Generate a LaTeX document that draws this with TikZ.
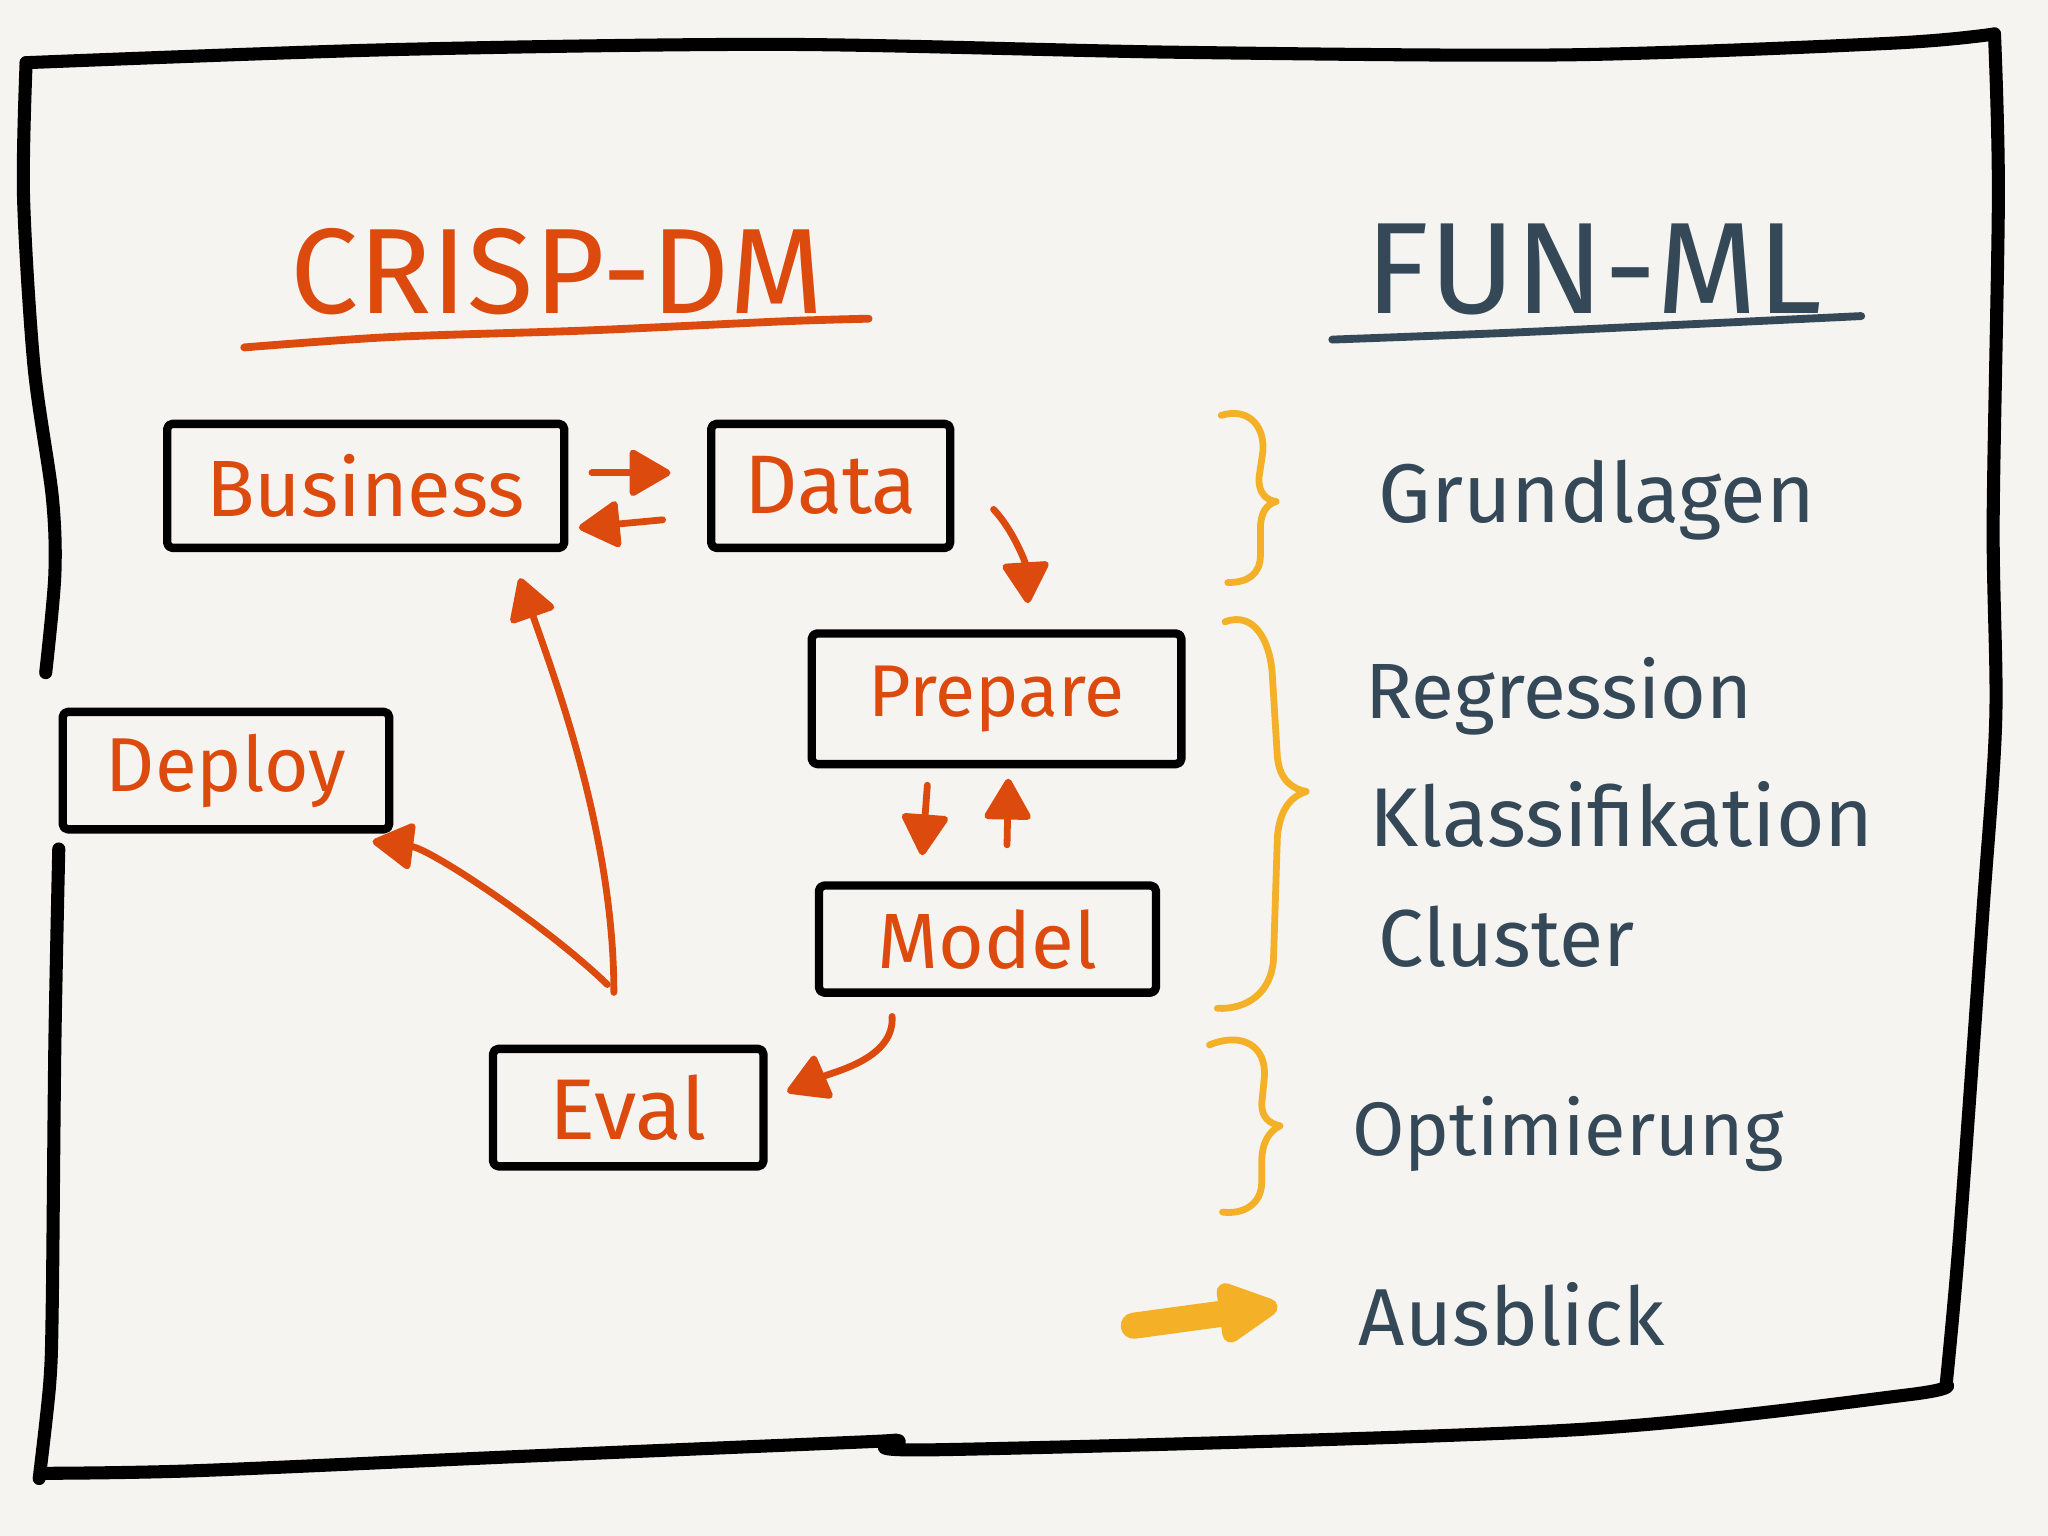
\documentclass[tikz,border=0pt]{standalone}
\usepackage{fontspec}
\setmainfont{Fira Sans}
\usepackage{graphicx}
\usetikzlibrary{arrows.meta}
\definecolor{bg}{HTML}{F5F4F0}
\definecolor{org}{HTML}{DC4A0E}
\definecolor{ink}{HTML}{344857}
\definecolor{yel}{HTML}{F4B026}
\newcommand\fitw[2]{\resizebox{#1}{!}{#2}}
\begin{document}
\begin{tikzpicture}[x=0.5pt,y=-0.5pt, line cap=round, line join=round,
 box/.style={draw=black, line width=3.2pt, rounded corners=2pt, inner sep=0pt, text=org},
 arr/.style={draw=org, line width=2.6pt, -{Triangle[length=17pt,width=19pt,round]}},
 brace/.style={draw=yel, line width=2.6pt},
 frame/.style={draw=black, line width=5pt},
 lbl/.style={text=ink, inner sep=0pt, anchor=base west}]
\fill[bg] (0,0) rectangle (1568,1176);
\useasboundingbox (0,0) rectangle (1568,1176);
% frame
\draw[frame] plot[smooth, tension=0.5] coordinates {(35,515) (42,440) (40,380) (26,280) (18,150) (20,48)};
\draw[frame] plot[smooth, tension=0.5] coordinates {(20,48) (300,38) (600,34) (900,40) (1200,42) (1450,33) (1527,26)};
\draw[frame] plot[smooth, tension=0.5] coordinates {(1527,26) (1530,150) (1526,400) (1528,550) (1518,700) (1500,950) (1490,1060)};
\draw[frame] plot[smooth, tension=0.5] coordinates {(1490,1060) (1460,1068) (1200,1095) (715,1110) (688,1103) (660,1104) (400,1115) (150,1126) (35,1128)};
\draw[frame] plot[smooth, tension=0.5] coordinates {(30,1132) (38,1060) (40,1000) (42,800) (45,650)};
% titles
\node[lbl, text=org] (t1) at (222,240) {\fitw{204pt}{CRISP-DM}};
\node[lbl] (t2) at (1045,240) {\fitw{175pt}{FUN-ML}};
\draw[org, line width=3pt] plot[smooth] coordinates {(187,266) (300,258) (450,253) (600,246) (665,244)};
\draw[ink, line width=3pt] plot[smooth] coordinates {(1020,260) (1150,255) (1300,248) (1425,242)};
% boxes
\node[box, minimum width=152pt, minimum height=47.5pt] (bus) at (280,372) {\fitw{122pt}{Business}};
\node[box, minimum width=91.5pt, minimum height=47.5pt] (dat) at (636,372) {\fitw{66pt}{Data}};
\node[box, minimum width=141.5pt, minimum height=50pt] (pre) at (763,535) {\fitw{98pt}{Prepare}};
\node[box, minimum width=129pt, minimum height=41pt] (mod) at (756,719) {\fitw{84pt}{Model}};
\node[box, minimum width=103.5pt, minimum height=45pt] (eva) at (481,848) {\fitw{60pt}{Eval}};
\node[box, minimum width=125pt, minimum height=45pt] (dep) at (173,590) {\fitw{92pt}{Deploy}};
% arrows
\draw[arr] ([xshift=9pt,yshift=5pt]bus.east) -- ([xshift=-14pt,yshift=5pt]dat.west);
\draw[arr] ([xshift=-17pt,yshift=-13pt]dat.west) -- ([xshift=4pt,yshift=-16pt]bus.east);
\draw[arr] ([xshift=15pt,yshift=-9pt]dat.east) .. controls (775,405) and (785,430) .. ([xshift=12pt,yshift=10pt]pre.north);
\draw[arr] ([xshift=-26.5pt,yshift=-6.5pt]pre.south) -- ([xshift=-25pt,yshift=10pt]mod.north);
\draw[arr] ([xshift=7.5pt,yshift=14pt]mod.north) -- ([xshift=4.5pt,yshift=-4pt]pre.south);
\draw[arr] ([xshift=-36.5pt,yshift=-7.5pt]mod.south) .. controls (685,810) and (640,820) .. ([xshift=7.5pt,yshift=6pt]eva.east);
\draw[arr] ([xshift=-5.5pt,yshift=20pt]eva.north) .. controls (470,640) and (425,520) .. ([xshift=59pt,yshift=-10pt]bus.south);
\draw[arr] ([xshift=-8pt,yshift=23pt]eva.north) .. controls (420,710) and (330,650) .. ([xshift=-8pt,yshift=-3pt]dep.south east);
% braces
\draw[brace] (935,318) .. controls (955,312) and (968,325) .. (967,345) -- (964,365) .. controls (963,378) and (970,383) .. (977,384) .. controls (970,386) and (965,392) .. (965,405) -- (965,425) .. controls (965,440) and (955,446) .. (940,446);
\draw[brace] (938,476) .. controls (960,468) and (972,490) .. (974,515) -- (978,580) .. controls (980,598) and (990,604) .. (1000,606) .. controls (988,610) and (980,620) .. (978,640) -- (975,735) .. controls (973,760) and (955,773) .. (932,772);
\draw[brace] (926,800) .. controls (950,790) and (970,800) .. (968,825) -- (966,845) .. controls (966,856) and (972,860) .. (980,862) .. controls (972,866) and (966,874) .. (966,890) -- (966,905) .. controls (966,922) and (952,930) .. (936,928);
% yellow arrow
\coordinate (ya) at (868,1015);
\coordinate (yb) at (978,1000);
\draw[yel, line width=10pt, -{Triangle[length=27pt,width=25pt,round]}] (ya) -- (yb);
% right labels
\node[lbl] (g) at (1055,400) {\fitw{167pt}{Grundlagen}};
\node[lbl] (r) at (1045,550) {\fitw{148pt}{Regression}};
\node[lbl] (k) at (1048,648) {\fitw{193pt}{Klassifikation}};
\node[lbl] (c) at (1055,740) {\fitw{98pt}{Cluster}};
\node[lbl] (o) at (1035,885) {\fitw{165pt}{Optimierung}};
\node[lbl] (a) at (1040,1030) {\fitw{117pt}{Ausblick}};
\end{tikzpicture}
\end{document}
